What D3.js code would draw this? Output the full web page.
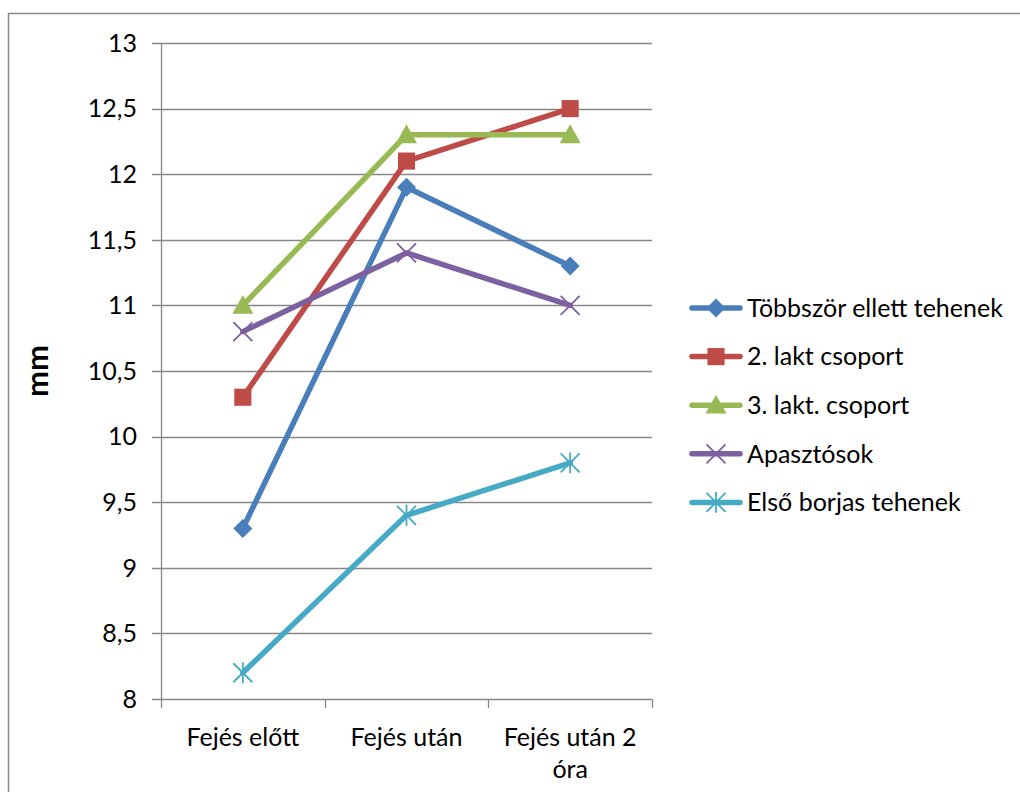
<!DOCTYPE html>
<html>
<head>
<meta charset="utf-8">
<script src="https://cdn.jsdelivr.net/npm/d3@7"></script>
<style>
  body { margin: 0; background: #fff; }
  svg text { font-family: Lato, "Noto Sans", sans-serif; fill: #000; }
</style>
</head>
<body>
<div id="chart"></div>
<script>
const categories = ["Fejés előtt", "Fejés után", "Fejés után 2|óra"];
const seriesNames = ["Többször ellett tehenek", "2. lakt csoport", "3. lakt. csoport", "Apasztósok", "Első borjas tehenek"];
const seriesValues = [
    [9.3, 11.9, 11.3],
    [10.3, 12.1, 12.5],
    [11.0, 12.3, 12.3],
    [10.8, 11.4, 11.0],
    [8.2, 9.4, 9.8]
];
const seriesColors = ["#4A7EBB", "#BE4B48", "#98B954", "#7D60A0", "#46AAC5"];
const seriesMarkers = ["diamond", "square", "triangle", "cross", "star"];
const yTicks = [8, 8.5, 9, 9.5, 10, 10.5, 11, 11.5, 12, 12.5, 13];

const width = 1020, height = 792;
const plot = {left: 161, right: 652, top: 43, bottom: 699};
const fontSize = 25;

const svg = d3.select("#chart").append("svg")
    .attr("width", width)
    .attr("height", height);

// outer frame
svg.append("rect")
    .attr("x", 8.5).attr("y", 13.5)
    .attr("width", 1030).attr("height", 800)
    .attr("fill", "none")
    .attr("stroke", "#898989")
    .attr("stroke-width", 1.5);

const x = d3.scaleBand()
    .domain(categories)
    .range([plot.left, plot.right]);

const y = d3.scaleLinear()
    .domain([8, 13])
    .range([plot.bottom, plot.top]);

// gridlines
svg.append("g")
    .selectAll("line")
    .data(yTicks)
    .join("line")
    .attr("x1", plot.left - 9)
    .attr("x2", plot.right)
    .attr("y1", d => Math.round(y(d)) + 0.5)
    .attr("y2", d => Math.round(y(d)) + 0.5)
    .attr("stroke", "#878787")
    .attr("stroke-width", 1.3);

// y axis line
svg.append("line")
    .attr("x1", plot.left + 0.5).attr("x2", plot.left + 0.5)
    .attr("y1", plot.top).attr("y2", plot.bottom)
    .attr("stroke", "#878787").attr("stroke-width", 1.3);

// x ticks
const xTickPos = categories.map(c => x(c)).concat([plot.right]);
svg.append("g")
    .selectAll("line")
    .data(xTickPos)
    .join("line")
    .attr("x1", d => Math.round(d) + 0.5)
    .attr("x2", d => Math.round(d) + 0.5)
    .attr("y1", plot.bottom)
    .attr("y2", plot.bottom + 9)
    .attr("stroke", "#878787").attr("stroke-width", 1.3);

// y labels
svg.append("g")
    .selectAll("text")
    .data(yTicks)
    .join("text")
    .attr("x", plot.left - 24)
    .attr("y", d => y(d))
    .attr("dy", "0.35em")
    .attr("text-anchor", "end")
    .attr("font-size", fontSize)
    .text(d => String(d).replace(".", ","));

// x labels
svg.append("g")
    .selectAll("text")
    .data(categories)
    .join("text")
    .attr("x", d => x(d) + x.bandwidth() / 2)
    .attr("y", 746)
    .attr("text-anchor", "middle")
    .attr("font-size", fontSize)
    .each(function (d) {
        const parts = d.split("|");
        d3.select(this).selectAll("tspan")
            .data(parts)
            .join("tspan")
            .attr("x", x(d) + x.bandwidth() / 2)
            .attr("dy", (p, i) => i === 0 ? 0 : 32)
            .text(p => p);
    });

// y title
svg.append("text")
    .attr("transform", "translate(48,371) rotate(-90)")
    .attr("text-anchor", "middle")
    .attr("font-size", 31)
    .attr("font-weight", "bold")
    .text("mm");

function drawMarker(g, type, color, size) {
    const s = size / 2;
    if (type === "diamond") {
        g.append("path").attr("d", `M0,${-s}L${s},0L0,${s}L${-s},0Z`).attr("fill", color);
    } else if (type === "square") {
        g.append("rect").attr("x", -s * 0.9).attr("y", -s * 0.9)
            .attr("width", s * 1.8).attr("height", s * 1.8).attr("fill", color);
    } else if (type === "triangle") {
        g.append("path").attr("d", `M0,${-s}L${s},${s * 0.8}L${-s},${s * 0.8}Z`).attr("fill", color);
    } else if (type === "cross") {
        g.append("path").attr("d", `M${-s},${-s}L${s},${s}M${-s},${s}L${s},${-s}`)
            .attr("stroke", color).attr("stroke-width", 1.8);
    } else if (type === "star") {
        g.append("path").attr("d", `M${-s},${-s}L${s},${s}M${-s},${s}L${s},${-s}M0,${-s * 1.1}L0,${s * 1.1}`)
            .attr("stroke", color).attr("stroke-width", 1.8);
    }
}

const line = d3.line()
    .x((d, i) => x(categories[i]) + x.bandwidth() / 2)
    .y(d => y(d));

seriesValues.forEach((vals, k) => {
    svg.append("path")
        .attr("d", line(vals))
        .attr("fill", "none")
        .attr("stroke", seriesColors[k])
        .attr("stroke-width", 5.5)
        .attr("stroke-linejoin", "round")
        .attr("stroke-linecap", "round");
});

seriesValues.forEach((vals, k) => {
    vals.forEach((v, i) => {
        const g = svg.append("g")
            .attr("transform", `translate(${x(categories[i]) + x.bandwidth() / 2},${y(v)})`);
        drawMarker(g, seriesMarkers[k], seriesColors[k], seriesMarkers[k] === "triangle" ? 21 : 19);
    });
});

// legend
const legend = svg.append("g");
seriesNames.forEach((name, k) => {
    const ly = 308 + k * 48.6;
    legend.append("line")
        .attr("x1", 692).attr("x2", 740)
        .attr("y1", ly).attr("y2", ly)
        .attr("stroke", seriesColors[k])
        .attr("stroke-width", 5.5)
        .attr("stroke-linecap", "round");
    const g = legend.append("g").attr("transform", `translate(716,${ly})`);
    drawMarker(g, seriesMarkers[k], seriesColors[k], seriesMarkers[k] === "triangle" ? 21 : 19);
    legend.append("text")
        .attr("x", 747)
        .attr("y", ly)
        .attr("dy", "0.35em")
        .attr("font-size", fontSize)
        .text(name);
});
</script>
</body>
</html>
